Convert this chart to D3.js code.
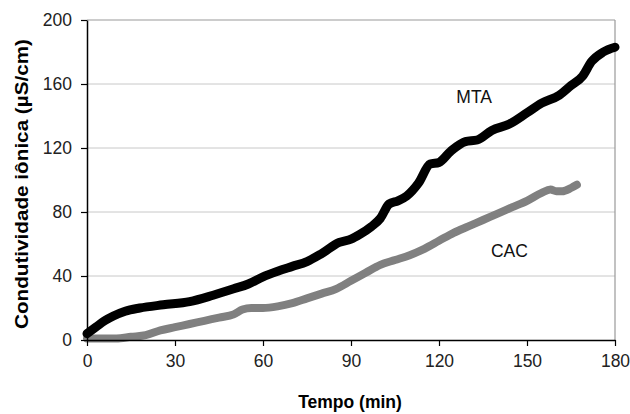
<!DOCTYPE html>
<html><head><meta charset="utf-8">
<script src="https://cdn.jsdelivr.net/npm/d3@7"></script>
<style>body{margin:0;background:#fff}svg{display:block}</style>
</head><body>
<svg id="c" width="630" height="414"></svg>
<script>
const mtaTime = [0,3,6,9,13,18,26,35,43,50,55,60,65,70,75,80,86,90,93,97,100,103,106,109,113,117,120,124,129,133,138,144,150,155,161,165,169,172,176,180];
const mtaVals = [4,8,12,15,18,20,22,24,28,32,35,39.5,43,46,49,54,61,63,66,71,76,85,87,90,98,110,111,118,124,125,131,135,142,148,153,159,165,174,180,183];
const cacTime = [0,5,10,15,20,25,30,35,40,45,50,53,56,60,65,70,75,80,85,90,95,100,105,110,115,120,125,130,135,140,145,150,155,158,160,162,165,167];
const cacVals = [1,1,1,2,3,6,8,10,12,14,16,19,20,20,21,23,26,29,32,37,42,47,50,53,57,62,67,71,75,79,83,87,92,94,93,93,95,97];
const xTicks = [0,30,60,90,120,150,180];
const yTicks = [0,40,80,120,160,200];
const seriesNames = ["MTA","CAC"];

const svg = d3.select("#c");
const x = d3.scaleLinear().domain([0,180]).range([87,615]);
const y = d3.scaleLinear().domain([0,200]).range([340,20]);
const font = "Liberation Sans, Arial, sans-serif";

// gridlines
svg.append("g").selectAll("line").data(yTicks.filter(d=>d>0 && d<200)).join("line")
  .attr("x1",x(0)).attr("x2",x(180)).attr("y1",d=>y(d)).attr("y2",d=>y(d))
  .attr("stroke","#c8c8c8").attr("stroke-width",1);
// top & right border
svg.append("line").attr("x1",x(0)).attr("x2",x(180)).attr("y1",y(200)).attr("y2",y(200)).attr("stroke","#999").attr("stroke-width",1.2);
svg.append("line").attr("x1",x(180)).attr("x2",x(180)).attr("y1",y(200)).attr("y2",y(0)).attr("stroke","#999").attr("stroke-width",1.2);

const line = d3.line().x(d=>x(d[0])).y(d=>y(d[1])).curve(d3.curveMonotoneX);
const cac = cacTime.map((t,i)=>[t,cacVals[i]]);
const mta = mtaTime.map((t,i)=>[t,mtaVals[i]]);
svg.append("path").datum(cac).attr("d",line).attr("fill","none").attr("stroke","#808080")
  .attr("stroke-width",8).attr("stroke-linecap","round").attr("stroke-linejoin","round");
svg.append("path").datum(mta).attr("d",line).attr("fill","none").attr("stroke","#000")
  .attr("stroke-width",9).attr("stroke-linecap","round").attr("stroke-linejoin","round");

// axes
const ax = svg.append("g").attr("transform",`translate(0,${y(0)})`)
  .call(d3.axisBottom(x).tickValues(xTicks).tickSize(6).tickPadding(9).tickSizeOuter(0));
const ay = svg.append("g").attr("transform",`translate(${x(0)},0)`)
  .call(d3.axisLeft(y).tickValues(yTicks).tickSize(6).tickPadding(9).tickSizeOuter(0));
[ax,ay].forEach(g=>{
  g.select(".domain").attr("stroke","#000").attr("stroke-width",1.5);
  g.selectAll(".tick line").attr("stroke","#000").attr("stroke-width",1.2);
  g.selectAll(".tick text").attr("font-family",font).attr("font-size",17.5).attr("fill","#222");
});

// series labels
svg.append("text").attr("x",x(132)).attr("y",y(148)).attr("text-anchor","middle")
  .attr("font-family",font).attr("font-size",17.5).attr("fill","#111").text(seriesNames[0]);
svg.append("text").attr("x",x(144)).attr("y",y(52)).attr("text-anchor","middle")
  .attr("font-family",font).attr("font-size",17.5).attr("fill","#111").text(seriesNames[1]);

// axis titles
svg.append("text").attr("x",350).attr("y",408).attr("text-anchor","middle")
  .attr("font-family",font).attr("font-size",17.5).attr("font-weight","bold").attr("fill","#000")
  .text("Tempo (min)");
svg.append("text").attr("transform","translate(28,184) rotate(-90)").attr("text-anchor","middle")
  .attr("font-family",font).attr("font-size",19).attr("font-weight","bold").attr("fill","#000")
  .attr("textLength",290).attr("lengthAdjust","spacingAndGlyphs")
  .text("Condutividade iônica (µS/cm)");
</script>
</body></html>
